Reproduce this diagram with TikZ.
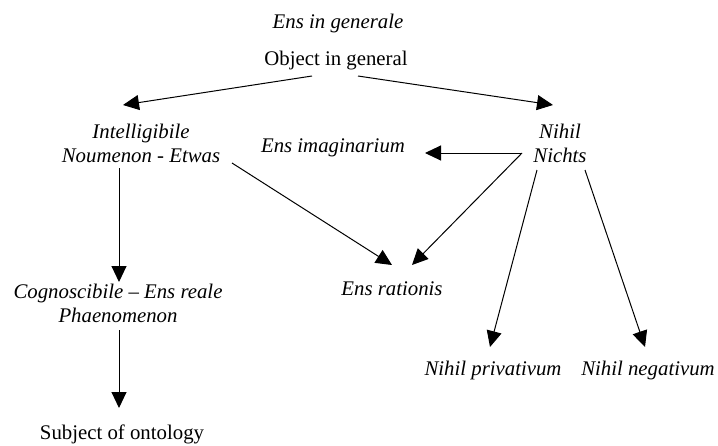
\documentclass[tikz,border=0pt]{standalone}
\usepackage{fontspec}
\setmainfont{Liberation Serif}
\usetikzlibrary{arrows.meta,calc}
\begin{document}
\begin{tikzpicture}[x=1pt,y=-1pt,
  lbl/.style={inner sep=0pt,anchor=base,align=center,font=\fontsize{20.8}{24}\selectfont\itshape},
  ulbl/.style={lbl,font=\fontsize{20.8}{24}\selectfont\upshape},
  arr/.style={line width=1pt,-{Triangle[length=16pt,width=15pt]}}]
\useasboundingbox[fill=white] (0,0) rectangle (718,445);

\node[lbl]  (ens)   at (338,28)  {Ens in generale};
\node[ulbl] (obj)   at (336,65)  {Object in general};
\node[lbl]  (intel) at (141,162) {Intelligibile\\Noumenon - Etwas};
\node[lbl]  (imag)  at (333,152) {Ens imaginarium};
\node[lbl]  (nihil) at (560,162) {Nihil\\Nichts};
\node[lbl]  (rat)   at (392,295) {Ens rationis};
\node[lbl]  (cogn)  at (118,322) {Cognoscibile -- Ens reale\\Phaenomenon};
\node[ulbl] (subj)  at (122,439) {Subject of ontology};
\node[lbl]  (priv)  at (493,375) {Nihil privativum};
\node[lbl]  (neg)   at (648,375) {Nihil negativum};

\draw[arr] ($(obj.base)+(-24,11)$) -- ($(intel.base)+(-18,-57)$);
\draw[arr] ($(obj.base)+(22,11)$) -- ($(nihil.base)+(-7,-57)$);
\draw[arr] ($(nihil.base)+(-38,-9)$) -- ($(imag.base)+(92,1)$);
\draw[arr] ($(nihil.base)+(-38,-9)$) -- ($(rat.base)+(20,-30)$);
\draw[arr] ($(intel.base)+(91,1)$) -- ($(rat.base)+(0,-30)$);
\draw[arr] ($(intel.base)+(-22,6)$) -- ($(cogn.base)+(1,-40)$);
\draw[arr] ($(cogn.base)+(1,8)$) -- ($(subj.base)+(-3,-31)$);
\draw[arr] ($(nihil.base)+(-23,8)$) -- ($(priv.base)+(-3,-28)$);
\draw[arr] ($(nihil.base)+(25,8)$) -- ($(neg.base)+(-3,-28)$);
\end{tikzpicture}
\end{document}
